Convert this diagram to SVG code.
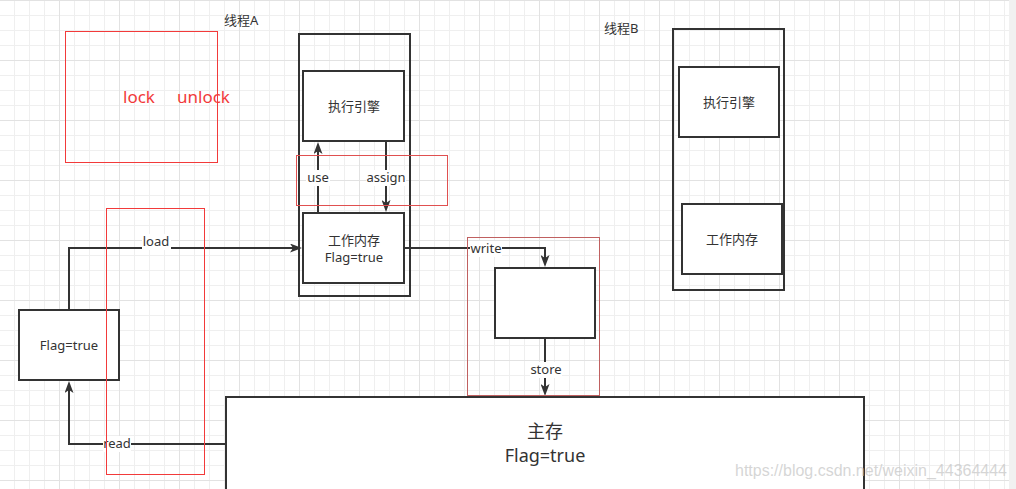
<svg xmlns="http://www.w3.org/2000/svg" width="1016" height="489" viewBox="0 0 1016 489">
<style>
.box{fill:#fff;stroke:#333;stroke-width:2}
.frame{fill:none;stroke:#333;stroke-width:2}
.red{fill:none;stroke:#f23a3a;stroke-width:1}
.conn{fill:none;stroke:#333;stroke-width:2}
.t{font-family:"Noto Sans","Noto Sans CJK SC",sans-serif;font-size:13px;fill:#333;text-anchor:middle}
.lbl{fill:#fff}
</style>
<defs>
<pattern id="grid" width="60" height="60" patternUnits="userSpaceOnUse">
<rect width="60" height="60" fill="#fff"/>
<path d="M14.5,0V60M29.5,0V60M44.5,0V60M0,15.5H60M0,30.5H60M0,45.5H60" stroke="#efefef" stroke-width="1"/>
<path d="M59.5,0V60M0,0.5H60" stroke="#e2e2e2" stroke-width="1"/>
</pattern>
<marker id="arr" viewBox="0 0 12 9" markerWidth="12" markerHeight="9" refX="8" refY="4.5" orient="auto" markerUnits="userSpaceOnUse">
<path d="M0,0 L12,4.5 L0,9 L3,4.5 Z" fill="#333"/>
</marker>
</defs>
<rect width="1016" height="489" fill="url(#grid)"/>
<rect x="1009" y="0" width="7" height="489" fill="#f1f1f1"/>

<g id="lock-note">
<text x="139" y="103" class="t" style="font-size:17px;fill:#f23a3a">lock</text>
<text x="203.5" y="103" class="t" style="font-size:17px;fill:#f23a3a">unlock</text>
</g>

<g id="threadA-label"><text x="224" y="25" class="t" style="text-anchor:start">线程A</text></g>
<g id="threadB-label"><text x="604" y="33" class="t" style="text-anchor:start">线程B</text></g>

<g id="threadA"><rect x="299" y="34" width="111" height="262" class="frame"/></g>
<g id="engineA"><rect x="303" y="71" width="101" height="70" class="box"/><text x="354" y="111" class="t">执行引擎</text></g>
<g id="workmemA"><rect x="303" y="213" width="101" height="70" class="box"/><text x="354" y="245" class="t">工作内存</text><text x="354" y="262" class="t">Flag=true</text></g>

<g id="threadB"><rect x="673" y="29" width="111" height="261" class="frame"/></g>
<g id="engineB"><rect x="679" y="67" width="100" height="70" class="box"/><text x="729" y="107" class="t">执行引擎</text></g>
<g id="workmemB"><rect x="682" y="204" width="100" height="70" class="box"/><text x="732" y="244" class="t">工作内存</text></g>

<g id="flag"><rect x="19" y="310" width="100" height="70" class="box"/><text x="69" y="350" class="t">Flag=true</text></g>
<g id="buffer"><rect x="495" y="268" width="100" height="70" class="box"/></g>
<g id="main"><rect x="226" y="397" width="638" height="110" class="box"/>
<text x="545" y="438" class="t" style="font-size:18px">主存</text>
<text x="545" y="462" class="t" style="font-size:18px">Flag=true</text></g>

<g id="connectors">
<path class="conn" d="M69,310 V248 H298" marker-end="url(#arr)"/>
<path class="conn" d="M226,444 H69 V385" marker-end="url(#arr)"/>
<path class="conn" d="M318,213 V146" marker-end="url(#arr)"/>
<path class="conn" d="M386,141 V208" marker-end="url(#arr)"/>
<path class="conn" d="M404,248 H545 V263" marker-end="url(#arr)"/>
<path class="conn" d="M545,339 V392" marker-end="url(#arr)"/>
<rect class="lbl" x="142" y="234" width="29" height="16"/><text x="156" y="246" class="t">load</text>
<rect class="lbl" x="103" y="436" width="28" height="16"/><text x="117" y="448" class="t">read</text>
<rect class="lbl" x="306" y="170" width="24" height="16"/><text x="318" y="182" class="t">use</text>
<rect class="lbl" x="366" y="170" width="40" height="16"/><text x="386" y="182" class="t">assign</text>
<rect class="lbl" x="470" y="241" width="32" height="16"/><text x="486" y="253" class="t">write</text>
<rect class="lbl" x="530" y="362" width="32" height="16"/><text x="546" y="374" class="t">store</text>
</g>

<g id="highlights">
<rect x="65.5" y="31.5" width="152" height="131" class="red"/>
<rect x="296.5" y="155.5" width="151" height="50" class="red" style="stroke:#e05050"/>
<rect x="106.5" y="208.5" width="98" height="266" class="red"/>
<rect x="467.5" y="237.5" width="132" height="158" class="red" style="stroke:#c06060"/>
</g>

<g id="watermark"><text x="735" y="476" textLength="272" lengthAdjust="spacingAndGlyphs" style="font-family:'Liberation Sans',Arial,sans-serif;font-size:17px;fill:#c8c8c8;fill-opacity:0.75">https://blog.csdn.net/weixin_44364444</text></g>
</svg>
